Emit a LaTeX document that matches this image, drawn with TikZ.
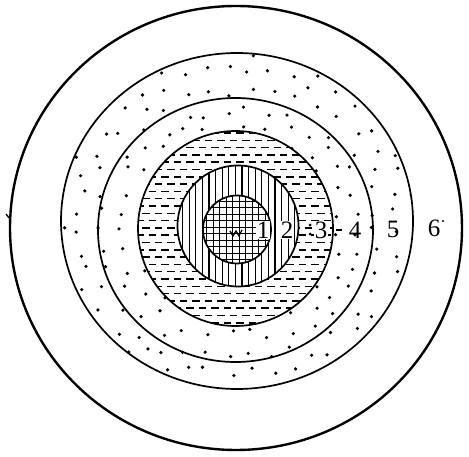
\documentclass[tikz,border=0pt]{standalone}
\usepackage{fontspec}
\setmainfont{Liberation Serif}
\begin{document}
\begin{tikzpicture}[x=1pt,y=-1pt,
  ring/.style={line width=1.7pt},
  hatch/.style={line width=1.1pt},
  lbl/.style={font=\fontsize{25}{25}\selectfont, inner sep=0.3pt, fill=white}]
\useasboundingbox (0,0) rectangle (469,457);
% ---- rings 4 and 5: dots
\begin{scope}[even odd rule]
\clip (237,221) ellipse [x radius=176, y radius=168] (235.5,228.5) circle (97.5);
\pgfmathsetseed{5}
\foreach \i in {0,...,17}{
  \foreach \j in {0,...,17}{
    \pgfmathsetmacro\px{60+\i*21+rand*6}
    \pgfmathsetmacro\py{52+\j*20+rand*6}
    \fill (\px,\py) circle (1.8);
  }}
\end{scope}
% ---- ring 3: horizontal dashes
\begin{scope}[even odd rule]
\clip (235.5,228.5) circle (97.5) (238,226) circle (60.5);
\foreach \r in {0,...,26}{
  \pgfmathsetmacro\yy{133+\r*7.3}
  \pgfmathsetmacro\off{mod(\r,2)*6}
  \foreach \c in {0,...,16}{
    \draw[line width=1.5pt] ({136+\off+\c*12.5},\yy) -- ++(7.5,0);
  }}
\end{scope}
% ---- ring 2: vertical lines
\begin{scope}[even odd rule]
\clip (238,226) circle (60.5) (237,229.5) circle (34);
\foreach \k in {0,...,19} \draw[hatch] ({176+\k*6.6},160) -- ++(0,135);
\end{scope}
% ---- core 1: grid
\begin{scope}
\clip (237,229.5) circle (34);
\foreach \k in {0,...,12}{
  \draw[line width=1pt] ({200+\k*6.5},190) -- ++(0,80);
  \draw[line width=1pt] (198,{195+\k*6.5}) -- ++(80,0);
}
\end{scope}
% ---- circles
\draw[line width=2.4pt] (236,228) ellipse [x radius=226, y radius=222];
\draw[ring] (237,221) ellipse [x radius=176, y radius=168];
\draw[ring] (235.5,230) ellipse [x radius=137.5, y radius=132];
\draw[ring] (235.5,228.5) circle (97.5);
\draw[ring] (238,226) circle (60.5);
\draw[ring] (237,229.5) circle (34);
% centre mark
\draw[line width=1.3pt] (230,231) -- (233,236) -- (236,231) -- (239,236) -- (242,230);
% ---- labels
\node[lbl] (l1) at (263,230) {1};
\node[lbl] (l2) at (287,230) {2};
\node[lbl] (l3) at (321,230) {3};
\node[lbl,fill=none] (l4) at (355,230) {4};
\node[lbl,fill=none] (l5) at (393,229) {5};
\node[lbl,fill=none] (l6) at (434,228) {6};
\fill (310,225) circle (1.5) (310,234) circle (1.5);
\draw[line width=1.3pt] (336,230) -- (342,230);
\fill (443,221) circle (1.2);
\draw[line width=1.3pt] (6,214) -- (9,218);
\end{tikzpicture}
\end{document}
